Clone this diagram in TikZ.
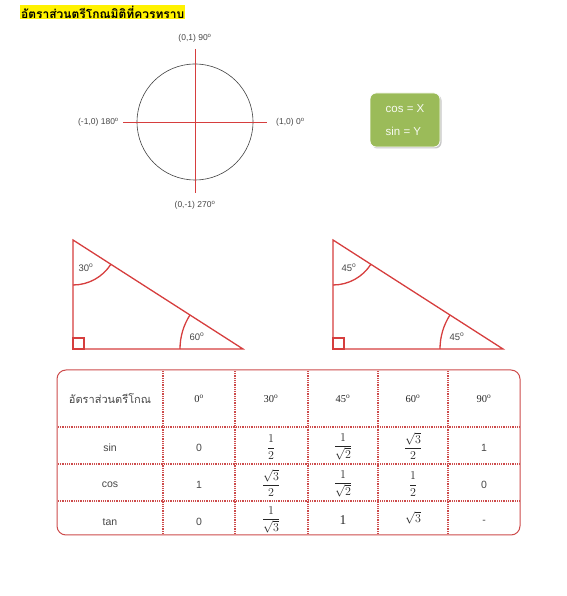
\documentclass[tikz,border=0pt]{standalone}
\usepackage{fontspec}
\setmainfont{Liberation Serif}
\setsansfont{Liberation Sans}
\newfontfamily\thaifont[Script=Thai]{Loma}
\usepackage{tikz}
\usetikzlibrary{shadows,calc}
\definecolor{trired}{RGB}{214,62,62}
\definecolor{tabred}{RGB}{205,75,75}
\definecolor{boxgreen}{RGB}{155,187,89}
\definecolor{txtgray}{RGB}{70,70,70}

\begin{document}
\begin{tikzpicture}[x=1pt,y=1pt,
    lbl/.style={font=\sffamily\fontsize{8.5}{10}\selectfont, text=txtgray, inner sep=1pt},
    ang/.style={font=\sffamily\fontsize{9.5}{11}\selectfont, text=txtgray, inner sep=1pt},
    axis/.style={trired, line width=0.8pt},
    tri/.style={trired, line width=1.3pt},
    cell/.style={font=\sffamily\fontsize{10.5}{12}\selectfont, text=txtgray},
    frac/.style={font=\fontsize{11.5}{13}\selectfont, text=black!85, inner sep=1pt},
    deg/.style={font=\fontsize{10.5}{12}\selectfont, text=black!85},
    sep/.style={tabred, line width=1.3pt, dash pattern=on 0.9pt off 0.9pt}]
    \useasboundingbox (0,0) rectangle (566,596);

    \node[fill=yellow, inner sep=1pt, anchor=west, font=\thaifont\bfseries\fontsize{12}{14}\selectfont] (title) at (20,584) {อัตราส่วนตรีโกณมิติที่ควรทราบ};

    % unit circle
    \coordinate (O) at (195,474);
    \draw[black!75, line width=0.6pt] (O) circle (58pt);
    \draw[axis] (123,474) coordinate (W) -- (267,474) coordinate (E);
    \draw[axis] (195,547) coordinate (N) -- (195,403) coordinate (S);
    \node[lbl, above=6pt] (top) at (N) {(0,1) 90\textsuperscript{o}};
    \node[lbl, below=7pt] (bottom) at (S) {(0,-1) 270\textsuperscript{o}};
    \node[lbl, left=3pt] (left) at (W) {(-1,0) 180\textsuperscript{o}};
    \node[lbl, right=8pt] (right) at (E) {(1,0) 0\textsuperscript{o}};

    \node[fill=boxgreen, draw=white, line width=0.8pt, rounded corners=6pt, drop shadow={shadow xshift=1.5pt, shadow yshift=-1.5pt, fill=black!45},
        minimum width=70pt, minimum height=54pt, text=white!92!boxgreen, align=left,
        font=\sffamily\fontsize{11.5}{13}\selectfont] (rule) at (405,476) {cos = X\\[10pt]sin = Y};

    % triangles
    \draw[tri] (73,356) coordinate (A1) -- (73,247) coordinate (B1) -- (243,247) coordinate (C1) -- cycle;
    \draw[tri] (B1) rectangle ++(11,11);
    \draw[tri] ($(A1)+(0,-45)$) arc[start angle=-90, end angle=-32.67, radius=45pt];
    \draw[tri] ($(C1)+(-63,0)$) arc[start angle=180, end angle=147.33, radius=63pt];
    \node[ang] (a30) at (86,328) {30\textsuperscript{o}};
    \node[ang] (a60) at (197,259) {60\textsuperscript{o}};

    \draw[tri] (333,356) coordinate (A2) -- (333,247) coordinate (B2) -- (503,247) coordinate (C2) -- cycle;
    \draw[tri] (B2) rectangle ++(11,11);
    \draw[tri] ($(A2)+(0,-45)$) arc[start angle=-90, end angle=-32.67, radius=45pt];
    \draw[tri] ($(C2)+(-63,0)$) arc[start angle=180, end angle=147.33, radius=63pt];
    \node[ang] (b45) at (349,328) {45\textsuperscript{o}};
    \node[ang] (c45) at (457,259) {45\textsuperscript{o}};

    % table
    \draw[tabred, line width=1pt, rounded corners=9pt] (57,61) rectangle (520,226);
    \foreach \x in {163,235,308,378,448}
        \draw[sep] (\x,62) -- (\x,225);
    \foreach \y in {169,132,95}
        \draw[sep] (58,\y) -- (519,\y);

    \node[cell, font=\thaifont\fontsize{11}{13}\selectfont] (head) at (110,197) {อัตราส่วนตรีโกณ};
    \node[deg] (h0) at (199,197) {0\textsuperscript{o}};
    \node[deg] (h30) at (271,197) {30\textsuperscript{o}};
    \node[deg] (h45) at (343,197) {45\textsuperscript{o}};
    \node[deg] (h60) at (413,197) {60\textsuperscript{o}};
    \node[deg] (h90) at (484,197) {90\textsuperscript{o}};

    \node[cell] (sin) at (110,148) {sin};
    \node[cell] (sin0) at (199,148) {0};
    \node[frac] (sin30) at (271,149) {$\displaystyle\frac{1}{2}$};
    \node[frac] (sin45) at (343,149) {$\displaystyle\frac{1}{\sqrt{2}}$};
    \node[frac] (sin60) at (413,150) {$\displaystyle\frac{\sqrt{3}}{2}$};
    \node[cell] (sin90) at (484,148) {1};

    \node[cell] (cos) at (110,111) {cos};
    \node[cell] (cos0) at (199,111) {1};
    \node[frac] (cos30) at (271,113) {$\displaystyle\frac{\sqrt{3}}{2}$};
    \node[frac] (cos45) at (343,112) {$\displaystyle\frac{1}{\sqrt{2}}$};
    \node[frac] (cos60) at (413,112) {$\displaystyle\frac{1}{2}$};
    \node[cell] (cos90) at (484,111) {0};

    \node[cell] (tan) at (110,74) {tan};
    \node[cell] (tan0) at (199,74) {0};
    \node[frac] (tan30) at (271,76) {$\displaystyle\frac{1}{\sqrt{3}}$};
    \node[frac, font=\fontsize{13.5}{15}\selectfont] (tan45) at (343,76) {1};
    \node[frac] (tan60) at (413,78) {$\sqrt{3}$};
    \node[cell] (tan90) at (484,74) {-};
\end{tikzpicture}
\end{document}
